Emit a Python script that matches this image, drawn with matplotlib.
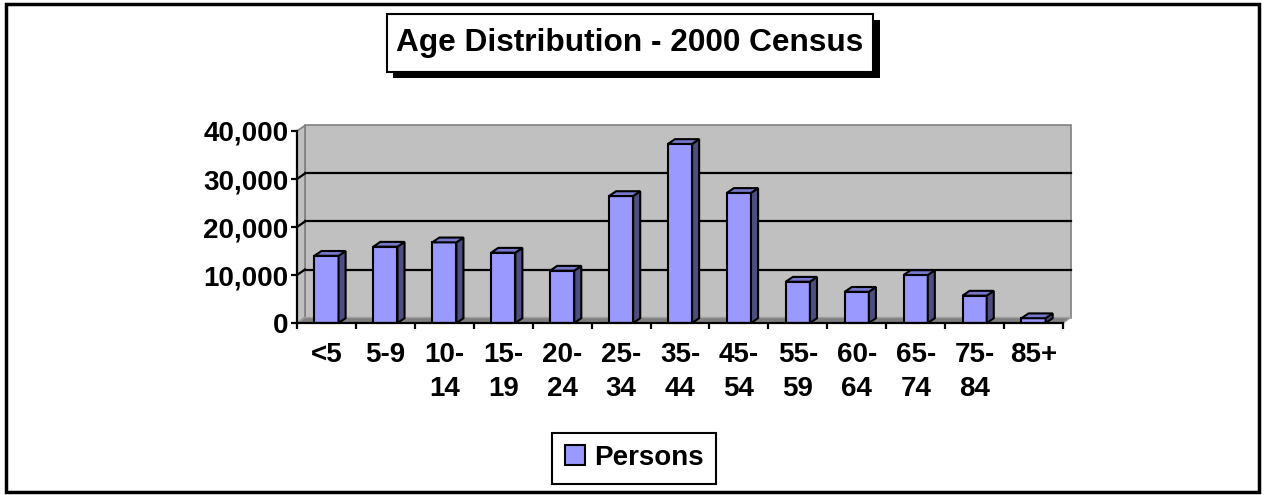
import numpy as np
import matplotlib.pyplot as plt
from matplotlib.patches import Polygon, Rectangle

plt.rcParams['font.family'] = ['Liberation Sans', 'DejaVu Sans']
plt.rcParams['font.weight'] = 'bold'

# census 2000 age groups
age_groups = ['<5', '5-9', '10-\n14', '15-\n19', '20-\n24', '25-\n34', '35-\n44',
              '45-\n54', '55-\n59', '60-\n64', '65-\n74', '75-\n84', '85+']
persons = [14000, 15900, 16800, 14650, 10900, 26450, 37300,
           27100, 8600, 6500, 10000, 5700, 1000]
y_ticks = [0, 10000, 20000, 30000, 40000]

W, H = 1265, 495
fig = plt.figure(figsize=(W / 100, H / 100), dpi=100)

def fx(px):
    return px / W

def fy(py):
    return 1 - py / H

ax = fig.add_axes([fx(297), fy(323), fx(1063) - fx(297), fy(131) - fy(323)])
n = len(persons)
ax.set_xlim(0, n)
ax.set_ylim(0, 40000)
ax.set_facecolor('none')

# depth of the 3d box in data units
ddx = 8 / (766 / n)
ddy = 5.5 * 40000 / 192

wall = '#c0c0c0'
back = Polygon([(ddx, ddy), (n + ddx, ddy), (n + ddx, 40000 + ddy), (ddx, 40000 + ddy)],
               closed=True, facecolor=wall, edgecolor='#808080', lw=1.2, clip_on=False, zorder=0)
side = Polygon([(0, 0), (ddx, ddy), (ddx, 40000 + ddy), (0, 40000)],
               closed=True, facecolor=wall, edgecolor='#808080', lw=1.2, clip_on=False, zorder=0)
floor = Polygon([(0, 0), (n, 0), (n + ddx, ddy), (ddx, ddy)],
                closed=True, facecolor='#808080', edgecolor='#a0a0a0', lw=1, clip_on=False, zorder=0.5)
for p in (back, side, floor):
    ax.add_patch(p)

# gridlines on the back wall and the side wall
for v in y_ticks[1:-1]:
    ax.plot([ddx, n + ddx], [v + ddy, v + ddy], color='black', lw=1.6, clip_on=False, zorder=1)
    ax.plot([0, ddx], [v, v + ddy], color='black', lw=1.6, clip_on=False, zorder=1)

x = np.arange(n) + 0.5
bw = 0.41
bdx = 0.12
bdy = 1000
bars = ax.bar(x, persons, width=bw, color='#9999ff', edgecolor='black', linewidth=1.5, zorder=3)
for xi, v in zip(x, persons):
    l, r = xi - bw / 2, xi + bw / 2
    top = Polygon([(l, v), (r, v), (r + bdx, v + bdy), (l + bdx, v + bdy)], closed=True,
                  facecolor='#7777cc', edgecolor='black', lw=1.5, clip_on=False, zorder=3)
    rside = Polygon([(r, 0), (r + bdx, bdy), (r + bdx, v + bdy), (r, v)], closed=True,
                    facecolor='#4d4d80', edgecolor='black', lw=1.5, clip_on=False, zorder=3)
    ax.add_patch(rside)
    ax.add_patch(top)

for s in ('top', 'right'):
    ax.spines[s].set_visible(False)
for s in ('left', 'bottom'):
    ax.spines[s].set_linewidth(1.6)
    ax.spines[s].set_zorder(4)

ax.set_yticks(y_ticks)
ax.set_yticklabels(['{:,}'.format(v) for v in y_ticks], fontsize=20, fontweight='bold')
ax.tick_params(axis='y', direction='out', length=4, width=1.6, pad=2)

ax.set_xticks(np.arange(n + 1))
ax.set_xticklabels([])
ax.tick_params(axis='x', which='major', direction='out', length=4, width=1.6)
ax.set_xticks(x, minor=True)
ax.set_xticklabels(age_groups, minor=True, fontsize=20, fontweight='bold', linespacing=1.4)
ax.tick_params(axis='x', which='minor', length=0, pad=14)

# title box with drop shadow
fig.add_artist(Rectangle((fx(393), fy(78)), fx(880) - fx(393), fy(20) - fy(78),
                         transform=fig.transFigure, facecolor='black', edgecolor='none'))
fig.add_artist(Rectangle((fx(387), fy(72)), fx(873) - fx(387), fy(14) - fy(72),
                         transform=fig.transFigure, facecolor='white', edgecolor='black', lw=1.5))
fig.text(fx(630), fy(43), 'Age Distribution - 2000 Census', ha='center', va='center',
         fontsize=22.8, fontweight='bold')

leg = fig.legend([bars], ['Persons'], loc='center', bbox_to_anchor=(fx(634), fy(458)),
                 frameon=True, fancybox=False, framealpha=1, edgecolor='black',
                 handlelength=0.75, handleheight=0.75, handletextpad=0.3, borderpad=0.45,
                 prop={'size': 20, 'weight': 'bold'})
leg.get_frame().set_linewidth(1.5)

# outer chart border
fig.add_artist(Rectangle((fx(6), fy(492)), fx(1259) - fx(6), fy(4) - fy(492),
                         transform=fig.transFigure, fill=False, edgecolor='black', lw=2.5))

fig.savefig('out.png', dpi=100)
